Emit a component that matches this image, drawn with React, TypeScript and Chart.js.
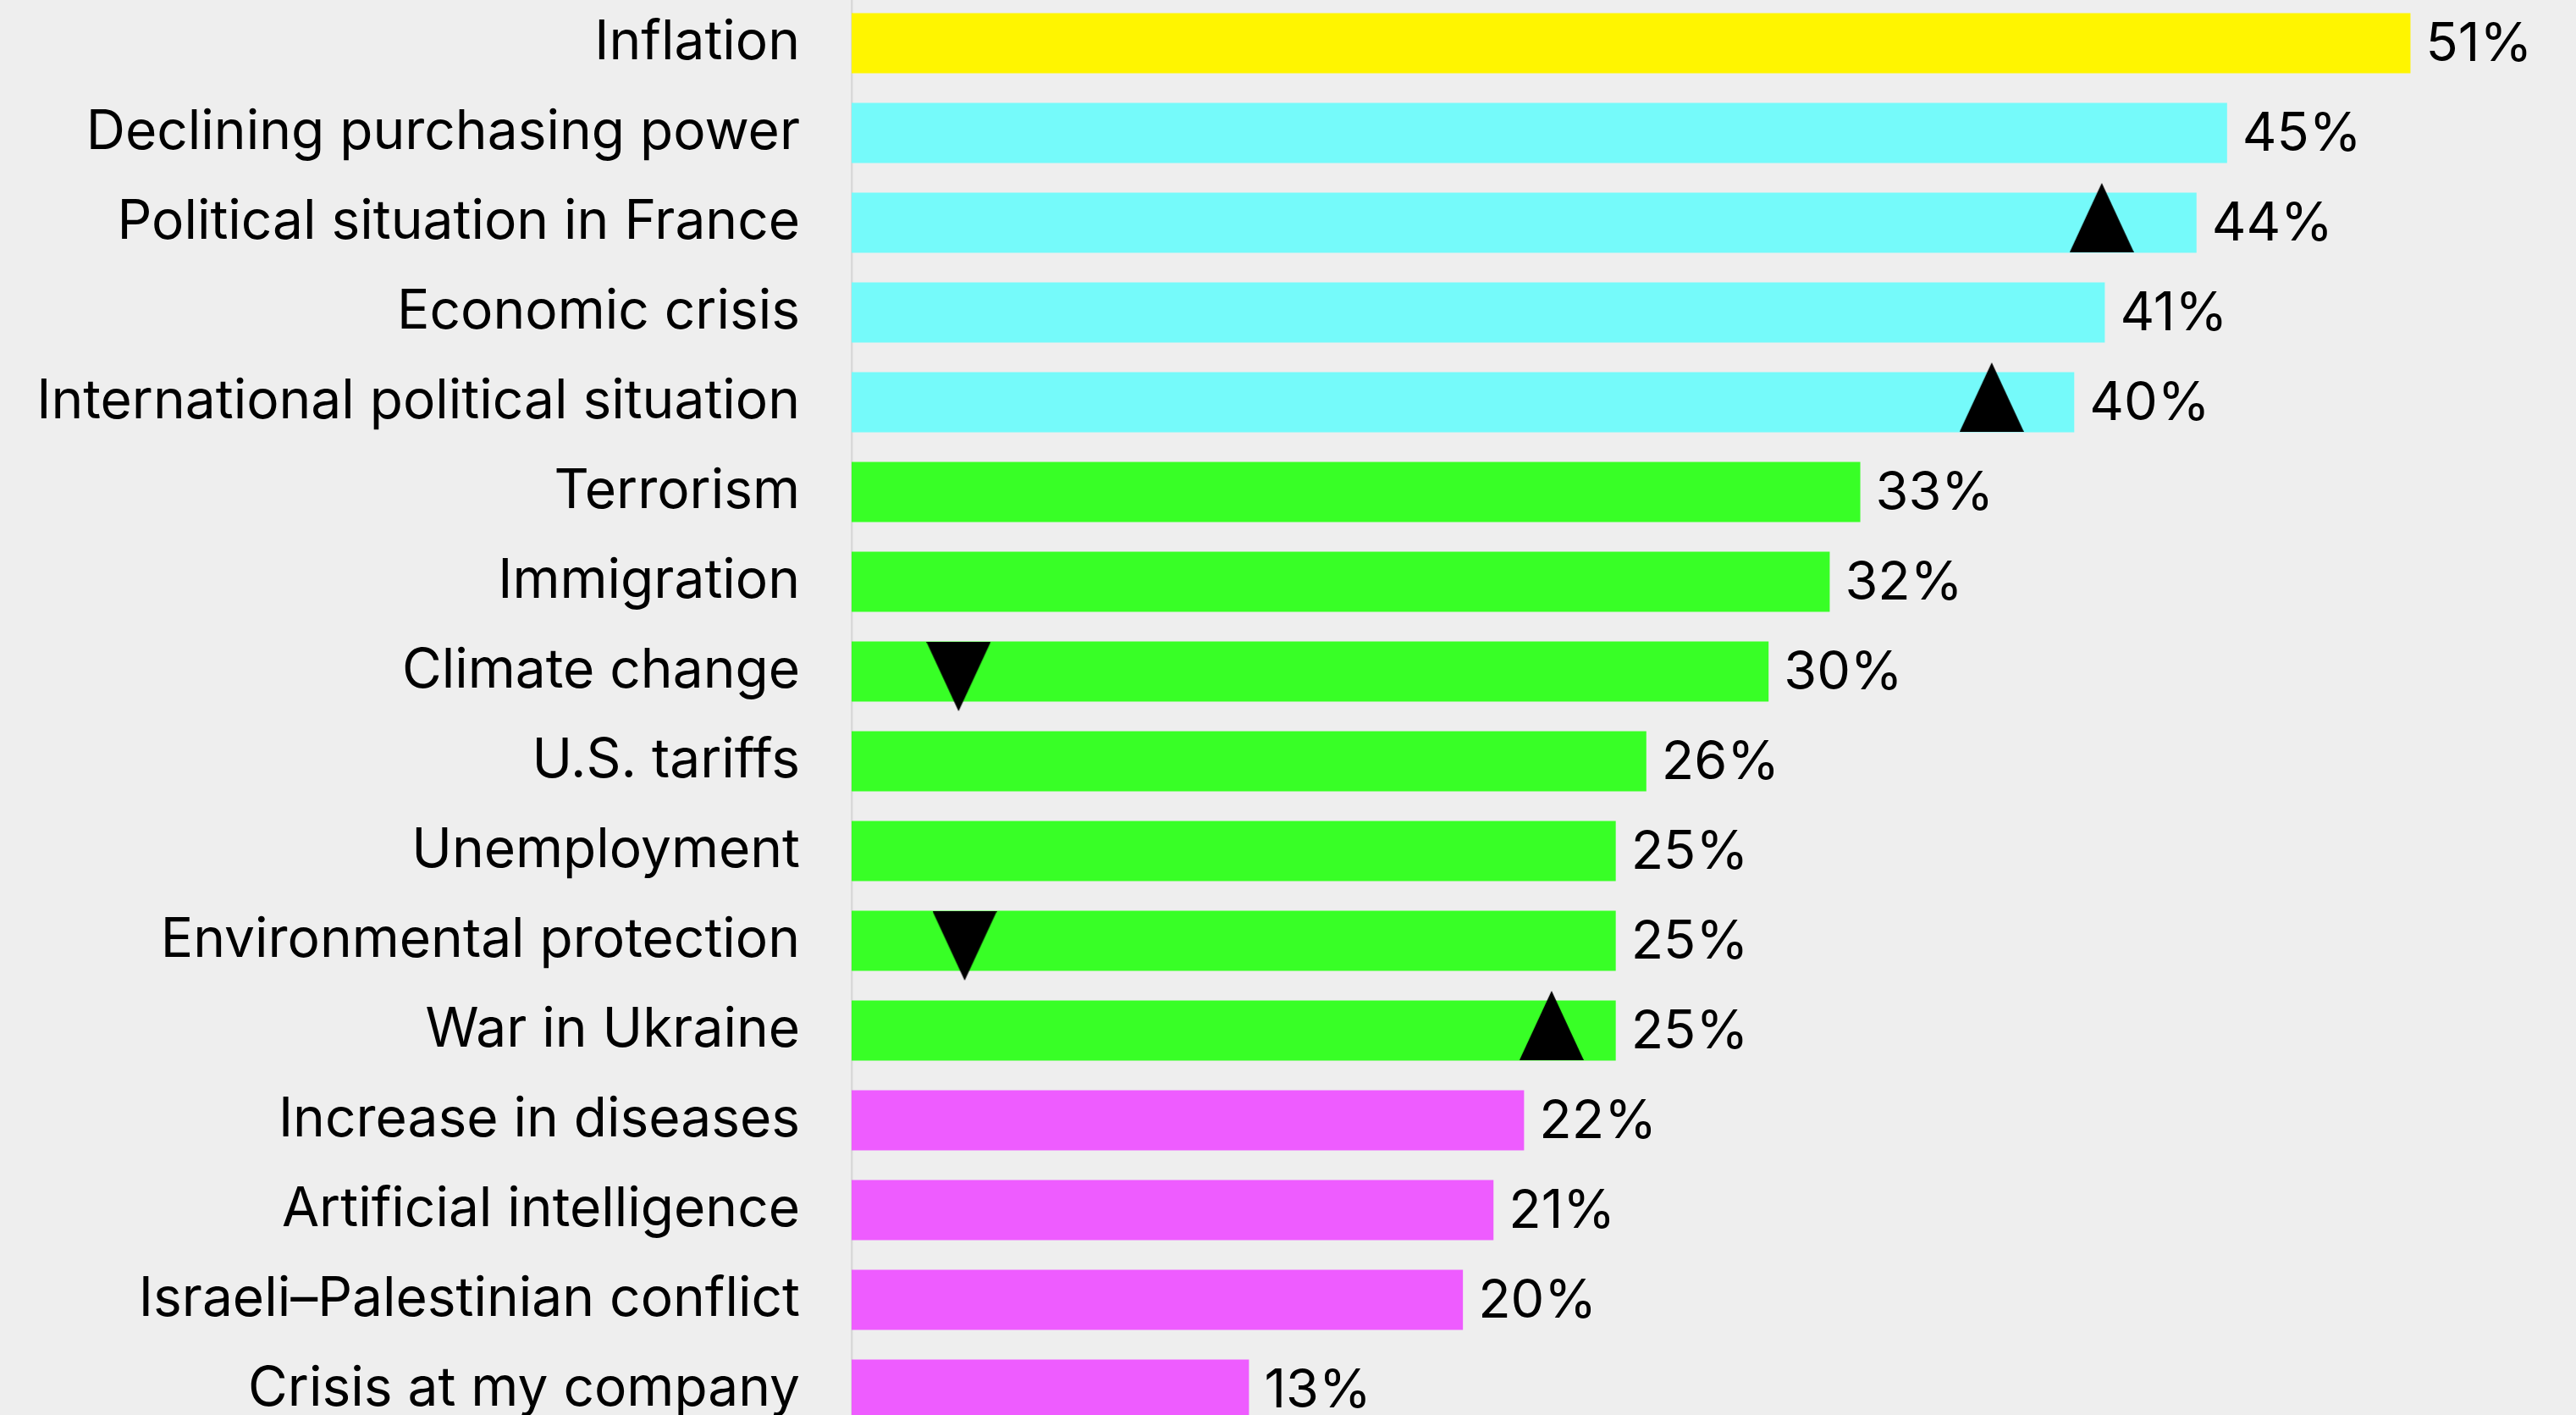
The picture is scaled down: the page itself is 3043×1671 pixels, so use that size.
import React, { useEffect, useRef } from 'react';
import { Chart, registerables } from 'chart.js';

Chart.register(...registerables);

const categories = [
  'Inflation',
  'Declining purchasing power',
  'Political situation in France',
  'Economic crisis',
  'International political situation',
  'Terrorism',
  'Immigration',
  'Climate change',
  'U.S. tariffs',
  'Unemployment',
  'Environmental protection',
  'War in Ukraine',
  'Increase in diseases',
  'Artificial intelligence',
  'Israeli–Palestinian conflict',
  'Crisis at my company',
];
const values = [51, 45, 44, 41, 40, 33, 32, 30, 26, 25, 25, 25, 22, 21, 20, 13];
const groups = [0, 1, 1, 1, 1, 2, 2, 2, 2, 2, 2, 2, 3, 3, 3, 3];
const groupColors = ['#FFF500', '#75FAFA', '#38FF26', '#EE5CFF'];

const markerCategories = [
  'Political situation in France',
  'International political situation',
  'Climate change',
  'Environmental protection',
  'War in Ukraine',
];
const markerValues = [40.9, 37.3, 3.5, 3.7, 22.9];
const markerDirections = ['up', 'up', 'down', 'down', 'up'];

const X_MAX = 56;
const W = 3043;
const H = 1696;

function makeTriangle(): HTMLCanvasElement {
  const c = document.createElement('canvas');
  c.width = 76;
  c.height = 94;
  const ctx = c.getContext('2d')!;
  ctx.fillStyle = '#000000';
  ctx.beginPath();
  ctx.moveTo(38, 0);
  ctx.lineTo(76, 82);
  ctx.lineTo(0, 82);
  ctx.closePath();
  ctx.fill();
  return c;
}

const valueLabels = {
  id: 'valueLabels',
  afterDatasetsDraw(chart: any) {
    const meta = chart.getDatasetMeta(0);
    const ctx = chart.ctx;
    ctx.save();
    ctx.fillStyle = '#000000';
    ctx.font = '400 63px Inter';
    ctx.textAlign = 'left';
    ctx.textBaseline = 'middle';
    meta.data.forEach((el: any, i: number) => {
      ctx.fillText(values[i] + '%', el.x + 18, el.y + 2);
    });
    ctx.restore();
  },
};

export default function App() {
  const ref = useRef<HTMLCanvasElement | null>(null);

  useEffect(() => {
    document.body.style.margin = '0';
    document.body.style.background = '#EEEEEE';
    document.body.style.overflow = 'hidden';
    const tri = makeTriangle();
    const chart = new Chart(ref.current!, {
      type: 'bar',
      data: {
        labels: categories,
        datasets: [
          {
            type: 'bar',
            data: values,
            backgroundColor: groups.map((g) => groupColors[g]),
            borderWidth: 0,
            barPercentage: 0.67,
            categoryPercentage: 1,
            order: 2,
          },
          {
            type: 'scatter',
            data: markerCategories.map((c, i) => ({ x: markerValues[i], y: c })),
            pointStyle: tri as any,
            pointRadius: 5,
            rotation: markerDirections.map((d) => (d === 'down' ? 180 : 0)) as any,
            showLine: false,
            order: 1,
          } as any,
        ],
      },
      options: {
        indexAxis: 'y',
        responsive: false,
        animation: false,
        devicePixelRatio: 1,
        layout: { autoPadding: false, padding: { top: 0, bottom: 0, left: 0, right: 15 } },
        plugins: { legend: { display: false }, tooltip: { enabled: false } },
        scales: {
          x: {
            type: 'linear',
            display: false,
            min: 0,
            max: X_MAX,
          },
          y: {
            type: 'category',
            offset: true,
            grid: { display: false, drawTicks: false },
            border: { display: true, color: '#D9D9D9', width: 2.5 },
            ticks: {
              color: '#000000',
              padding: 61,
              font: { family: 'Inter', size: 64, weight: '400' },
            },
            afterFit(scale: any) {
              scale.width = 1006;
              scale.paddingTop = 0;
              scale.paddingBottom = 0;
            },
          },
        },
      },
      plugins: [valueLabels],
    });
    return () => chart.destroy();
  }, []);

  return (
    <div style={{ width: W, height: 1671, overflow: 'hidden', background: '#EEEEEE', position: 'relative' }}>
      <canvas ref={ref} width={W} height={H} style={{ position: 'absolute', left: 0, top: -2, width: W, height: H }} />
    </div>
  );
}
